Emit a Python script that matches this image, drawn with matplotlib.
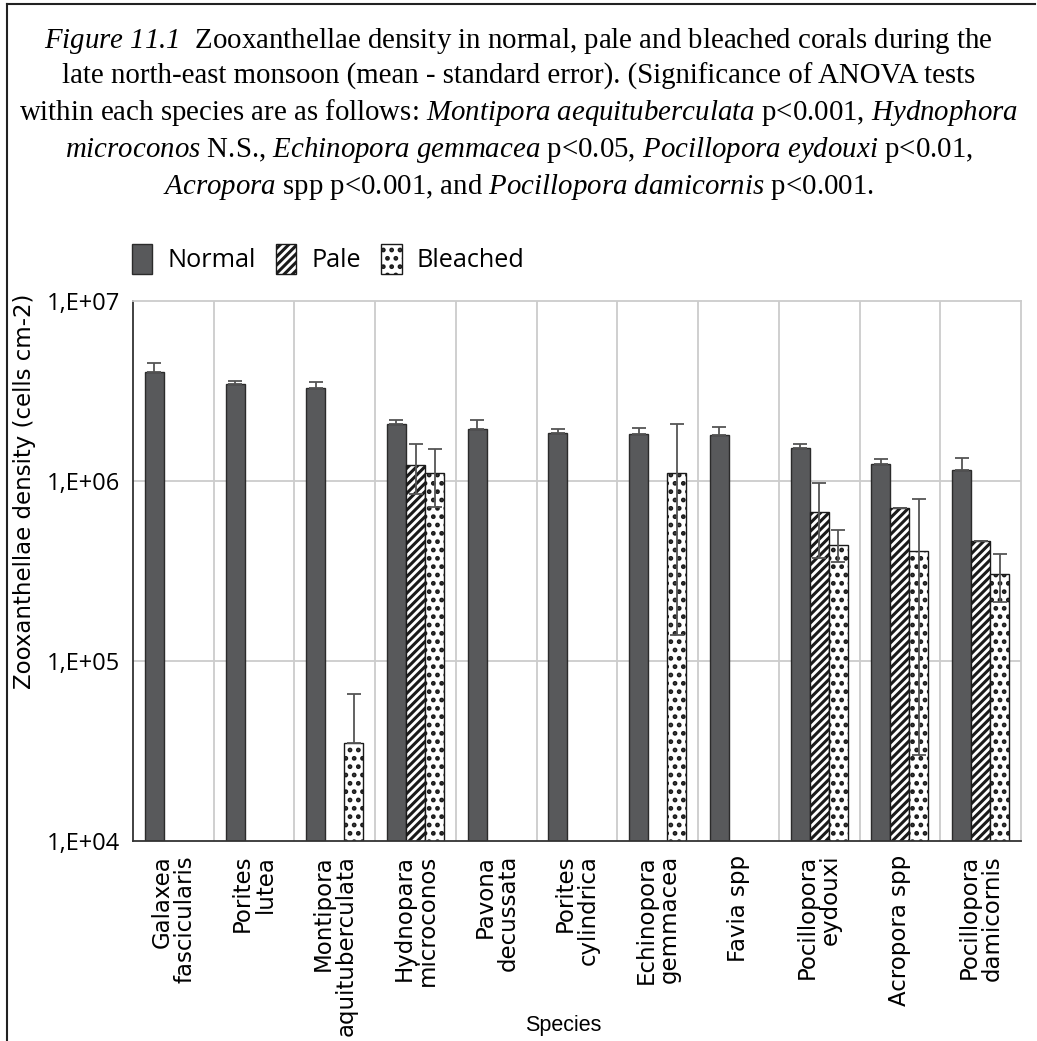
import numpy as np
import matplotlib.pyplot as plt
from matplotlib.lines import Line2D

plt.rcParams["mathtext.fontset"] = "custom"
plt.rcParams["mathtext.rm"] = "Liberation Serif:italic"
plt.rcParams["mathtext.it"] = "Liberation Serif:italic"
plt.rcParams["hatch.linewidth"] = 2.2

species = ["Galaxea\nfascicularis", "Porites\nlutea", "Montipora\naquituberculata",
           "Hydnopara\nmicroconos", "Pavona\ndecussata", "Porites\ncylindrica",
           "Echinopora\ngemmacea", "Favia spp", "Pocillopora\neydouxi",
           "Acropora spp", "Pocillopora\ndamicornis"]

nan = np.nan
normal = [4.05e6, 3.46e6, 3.27e6, 2.07e6, 1.95e6, 1.84e6, 1.82e6, 1.80e6, 1.53e6, 1.24e6, 1.15e6]
normal_se = [0.5e6, 0.12e6, 0.26e6, 0.12e6, 0.24e6, 0.1e6, 0.15e6, 0.2e6, 0.08e6, 0.08e6, 0.2e6]
pale = [nan, nan, nan, 1.23e6, nan, nan, nan, nan, 6.73e5, 7.1e5, 4.64e5]
pale_se = [0, 0, 0, 0.38e6, 0, 0, 0, 0, 0.3e6, 0, 0]
bleached = [nan, nan, 3.52e4, 1.11e6, nan, nan, 1.11e6, nan, 4.43e5, 4.1e5, 3.03e5]
bleached_se = [0, 0, 3.0e4, 0.39e6, 0, 0, 0.97e6, 0, 0.09e6, 3.8e5, 0.09e6]
bleached_lower = [0, 0, 0, 1, 0, 0, 1, 0, 1, 1, 1]  # 1 = lower error visible

x = np.arange(len(species))
w = 0.236

fig = plt.figure(figsize=(10.37, 10.41), dpi=100)
ax = fig.add_axes([133 / 1037, 1 - 841 / 1041, (1021 - 133) / 1037, (841 - 301) / 1041])

ax.bar(x - w, normal, w, color="#58595b", edgecolor="#2b2b2b", linewidth=1.0, label="Normal", zorder=2)
ax.bar(x, pale, w, color="white", edgecolor="#1a1a1a", hatch="////", linewidth=1.0, label="Pale", zorder=2)
ax.bar(x + w, bleached, w, color="white", edgecolor="#1a1a1a", hatch="..", linewidth=1.0, label="Bleached", zorder=2)

ekw = dict(fmt="none", ecolor="#555555", elinewidth=1.3, capsize=4.8, capthick=1.3, zorder=3)
ax.errorbar(x - w, normal, yerr=[np.zeros(len(x)), normal_se], **ekw)
pmask = ~np.isnan(pale)
ax.errorbar(x[pmask], np.array(pale)[pmask], yerr=np.array(pale_se)[pmask], **ekw)
b = np.array(bleached)
bse = np.array(bleached_se)
low = bse * np.array(bleached_lower)
bmask = ~np.isnan(b)
ax.errorbar(x[bmask] + w, b[bmask], yerr=[low[bmask], bse[bmask]], **ekw)

ax.set_yscale("log")
ax.set_ylim(1e4, 1e7)
ax.set_xlim(-0.5, len(species) - 0.5)
ax.set_yticks([1e4, 1e5, 1e6, 1e7])
ax.set_yticklabels(["1,E+04", "1,E+05", "1,E+06", "1,E+07"], fontfamily="Open Sans", fontsize=17)
ax.yaxis.set_minor_locator(plt.NullLocator())
ax.tick_params(axis="y", length=0, pad=9)
ax.set_xticks(x)
ax.set_xticklabels(species, rotation=90, fontsize=16.5, linespacing=1.0, multialignment="right", va="top")
ax.tick_params(axis="x", length=0, pad=10)

# grid at category boundaries and decades
for b_ in np.arange(0.5, len(species) - 0.5, 1.0):
    ax.axvline(b_, color="#cccccc", lw=1.3, zorder=1)
for d in [1e5, 1e6]:
    ax.axhline(d, color="#cccccc", lw=1.3, zorder=1)
for s in ["top", "right"]:
    ax.spines[s].set_color("#cccccc")
    ax.spines[s].set_linewidth(1.3)
for s in ["left", "bottom"]:
    ax.spines[s].set_color("#333333")
    ax.spines[s].set_linewidth(1.3)

fig.text(25 / 1037, 1 - 491 / 1041, "Zooxanthellae density (cells cm-2)", rotation=90,
         fontsize=16.5, ha="center", va="center")
fig.text(563 / 1037, 1 - 1025 / 1041, "Species", fontfamily="Liberation Sans", fontsize=15.5,
         ha="center", va="center")

ax.legend(loc="center left", bbox_to_anchor=(122 / 1037, 1 - 259 / 1041), bbox_transform=fig.transFigure,
          ncol=3, frameon=False, prop={"family": "Open Sans", "size": 18.2},
          handlelength=0.8, handleheight=1.5, handletextpad=0.6, columnspacing=0.8, borderaxespad=0)

title = (r"$\mathit{Figure\ 11.1}$  Zooxanthellae density in normal, pale and bleached corals during the" "\n"
         r"late north-east monsoon (mean - standard error). (Significance of ANOVA tests" "\n"
         r"within each species are as follows: $\mathit{Montipora\ aequituberculata}$ p<0.001, $\mathit{Hydnophora}$" "\n"
         r"$\mathit{microconos}$ N.S., $\mathit{Echinopora\ gemmacea}$ p<0.05, $\mathit{Pocillopora\ eydouxi}$ p<0.01," "\n"
         r"$\mathit{Acropora}$ spp p<0.001, and $\mathit{Pocillopora\ damicornis}$ p<0.001.")
fig.text(0.5, 1 - 114 / 1041, title, fontfamily="Liberation Serif", fontsize=20.8,
         ha="center", va="center", multialignment="center", linespacing=1.32)

# page frame
fig.add_artist(Line2D([7 / 1037, 1035 / 1037], [1 - 4 / 1041, 1 - 4 / 1041], color="#222222", lw=1.5))
fig.add_artist(Line2D([7 / 1037, 7 / 1037], [0, 1 - 4 / 1041], color="#222222", lw=1.5))

plt.savefig("out.png", dpi=100)
